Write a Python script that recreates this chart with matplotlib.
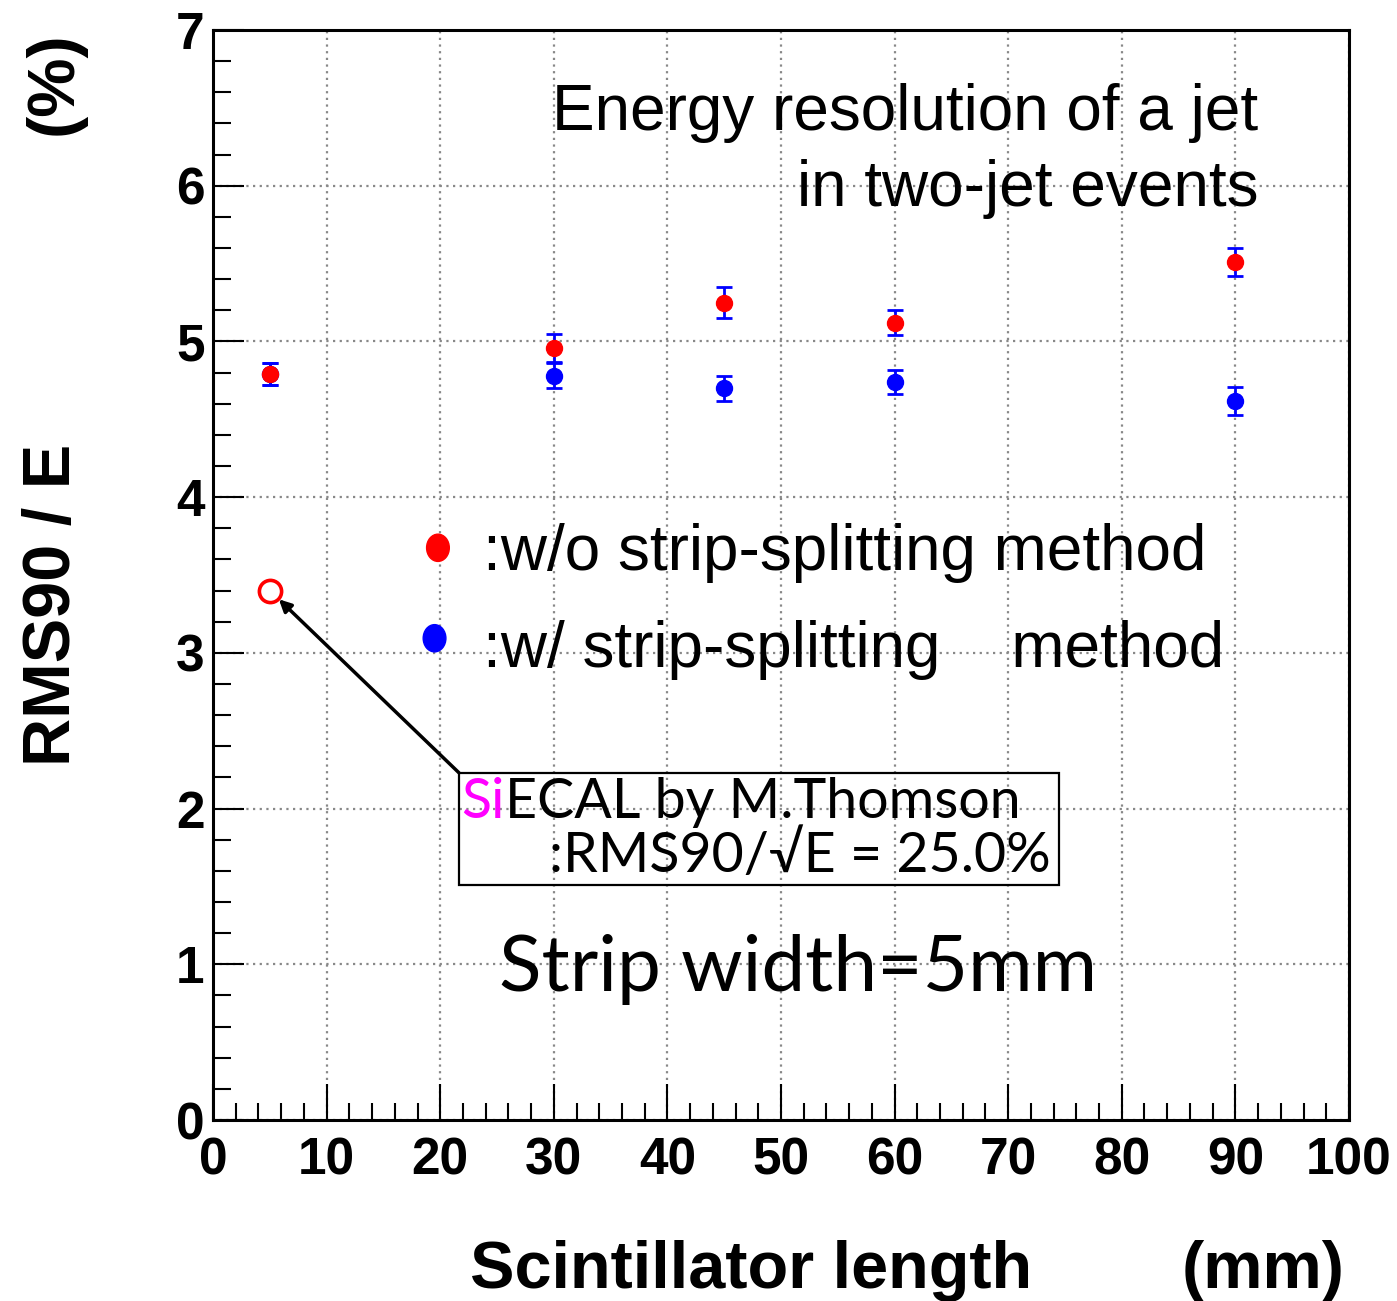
import numpy as np
import matplotlib
matplotlib.use("Agg")
from matplotlib import pyplot as plt
from matplotlib.patches import Ellipse, Rectangle
from matplotlib.ticker import MultipleLocator

# scintillator length (mm)
lengths = [5, 30, 45, 60, 90]
# RMS90/E (%) without strip-splitting
res_wo = [4.79, 4.96, 5.25, 5.12, 5.51]
err_wo = [0.07, 0.09, 0.10, 0.08, 0.09]
# RMS90/E (%) with strip-splitting
res_w = [4.79, 4.78, 4.70, 4.74, 4.62]
err_w = [0.07, 0.08, 0.08, 0.08, 0.09]
# SiECAL reference point
si_length = [5]
si_res = [3.40]

x_ticks = [0, 10, 20, 30, 40, 50, 60, 70, 80, 90, 100]
y_ticks = [0, 1, 2, 3, 4, 5, 6, 7]

sans = ["Liberation Sans", "DejaVu Sans"]
calib = ["Lato", "DejaVu Sans"]

fig = plt.figure(figsize=(13.97, 13.01), dpi=100)
ax = fig.add_axes([0.1525, 0.1391, 0.8131, 0.8378])
ax.set_xlim(0, 100)
ax.set_ylim(0, 7)

ax.grid(True, which="major", linestyle=(0, (1, 2)), color="#888888", linewidth=1.6)
ax.set_axisbelow(True)

for side in ["left", "bottom", "right", "top"]:
    ax.spines[side].set_linewidth(2.2)
ax.xaxis.set_major_locator(MultipleLocator(10))
ax.xaxis.set_minor_locator(MultipleLocator(2))
ax.yaxis.set_major_locator(MultipleLocator(1))
ax.yaxis.set_minor_locator(MultipleLocator(0.2))
ax.set_xticks(x_ticks)
ax.set_yticks(y_ticks)
ax.set_xticklabels([str(v) for v in x_ticks])
ax.set_yticklabels([str(v) for v in y_ticks])
ax.tick_params(axis="x", which="major", direction="in", length=26, width=1.5, pad=12)
ax.tick_params(axis="x", which="minor", direction="in", length=12, width=1.5)
ax.tick_params(axis="y", which="major", direction="in", length=22, width=1.5, pad=6)
ax.tick_params(axis="y", which="minor", direction="in", length=13, width=1.5)
for lab in ax.get_xticklabels() + ax.get_yticklabels():
    lab.set_fontfamily(sans)
    lab.set_fontweight("bold")
    lab.set_fontsize(37)

# data points
ax.errorbar(lengths, res_w, yerr=err_w, fmt="o", color="blue", ecolor="blue",
            markersize=11.5, elinewidth=2, capsize=6, capthick=2, zorder=3)
ax.errorbar(lengths, res_wo, yerr=err_wo, fmt="o", color="red", ecolor="blue",
            markersize=11.5, elinewidth=2, capsize=6, capthick=2, zorder=4)
ax.plot(si_length, si_res, "o", markerfacecolor="none", markeredgecolor="red",
        markersize=16, markeredgewidth=2.6, zorder=5)

# title text
ax.text(0.920, 0.908, "Energy resolution of a jet", transform=ax.transAxes,
        ha="right", va="baseline", fontsize=46, family=sans)
ax.text(0.920, 0.839, "in two-jet events", transform=ax.transAxes,
        ha="right", va="baseline", fontsize=46, family=sans)

# hand-made legend
ax.add_patch(Ellipse((0.198, 0.525), 0.020, 0.025, transform=ax.transAxes,
                     color="red", zorder=6))
ax.add_patch(Ellipse((0.195, 0.442), 0.020, 0.025, transform=ax.transAxes,
                     color="blue", zorder=6))
ax.text(0.238, 0.505, ":w/o strip-splitting method", transform=ax.transAxes,
        ha="left", va="baseline", fontsize=46, family=sans)
ax.text(0.238, 0.416, ":w/ strip-splitting    method", transform=ax.transAxes,
        ha="left", va="baseline", fontsize=46, family=sans)

# SiECAL box
ax.add_patch(Rectangle((0.2165, 0.2156), 0.5282, 0.1027, transform=ax.transAxes,
                       fill=False, edgecolor="black", linewidth=1.6, zorder=6))
si = ax.text(0.2185, 0.2775, "Si", transform=ax.transAxes, ha="left",
             va="baseline", fontsize=40, family=calib, color="magenta")
ax.annotate("ECAL by M.Thomson", xy=(1, 0), xycoords=si, ha="left",
            va="bottom", fontsize=40, family=calib, color="black")
ax.text(0.7375, 0.2280, ":RMS90/\u221aE = 25.0%", transform=ax.transAxes,
        ha="right", va="baseline", fontsize=40, family=calib)

ax.annotate("", xy=(si_length[0], si_res[0]), xytext=(21.65, 2.23),
            arrowprops=dict(arrowstyle="-|>", color="black", lw=2.5,
                            mutation_scale=18, shrinkA=0, shrinkB=9))

ax.text(0.252, 0.118, "Strip width=5mm", transform=ax.transAxes,
        ha="left", va="baseline", fontsize=56.5, family=calib)

# axis titles, ROOT style
fig.text(0.3365, 1 - 1288 / 1301, "Scintillator length", ha="left",
         va="baseline", fontsize=48, fontweight="bold", family=sans)
fig.text(0.9628, 1 - 1288 / 1301, "(mm)", ha="right", va="baseline",
         fontsize=48, fontweight="bold", family=sans)
fig.text(84 / 1397, 1 - 605 / 1301, "RMS90 / E", rotation=90, ha="right",
         va="center", fontsize=48, fontweight="bold", family=sans)
fig.text(86 / 1397, 1 - 83 / 1301, "(%)", rotation=90, ha="right",
         va="center", fontsize=48, fontweight="bold", family=sans)

fig.savefig("out.png", dpi=100)
